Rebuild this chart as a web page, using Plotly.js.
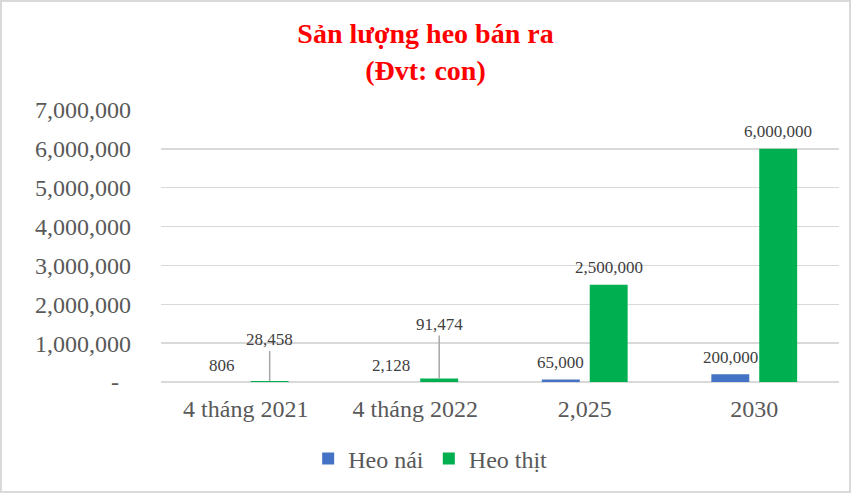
<!DOCTYPE html>
<html>
<head>
<meta charset="utf-8">
<script src="https://cdn.plot.ly/plotly-3.0.1.min.js"></script>
<style>
html,body{margin:0;padding:0;background:#fff;}
#wrap{position:relative;width:851px;height:493px;}
#chart{width:851px;height:493px;}
#frame{position:absolute;left:0;top:0;width:851px;height:493px;box-sizing:border-box;border:2px solid #d9d9d9;pointer-events:none;}
</style>
</head>
<body>
<div id="wrap"><div id="chart"></div><div id="frame"></div></div>
<script>
const categories = ['4 tháng 2021', '4 tháng 2022', '2,025', '2030'];
const heoNai = [806, 2128, 65000, 200000];
const heoThit = [28458, 91474, 2500000, 6000000];
const seriesNames = ['Heo nái', 'Heo thịt'];
const yTickVals = [0, 1000000, 2000000, 3000000, 4000000, 5000000, 6000000, 7000000];
const yTickText = ['-\u00a0\u00a0', '1,000,000', '2,000,000', '3,000,000', '4,000,000', '5,000,000', '6,000,000', '7,000,000'];
// labels lifted with leader lines (series 1 index -> pixel lift)
const leaderLift = {0: 41, 1: 54};

const FONT = 'Liberation Serif, Times New Roman, serif';
const bargap = 0.435;
const slotOff = (1 - bargap) / 4;
const fmt = v => v.toLocaleString('en-US');

const traces = [
  {type: 'bar', name: seriesNames[0], x: categories, y: heoNai, marker: {color: '#4472C4'}, hoverinfo: 'none'},
  {type: 'bar', name: seriesNames[1], x: categories, y: heoThit, marker: {color: '#00B050'}, hoverinfo: 'none'}
];

const annotations = [];
heoNai.forEach((v, i) => {
  annotations.push({x: i - slotOff, y: v, xref: 'x', yref: 'y', text: fmt(v), showarrow: false,
    yanchor: 'bottom', yshift: 5, font: {family: FONT, size: 17, color: '#404040'}});
});
heoThit.forEach((v, i) => {
  if (leaderLift[i] !== undefined) {
    annotations.push({x: i + slotOff, y: v, xref: 'x', yref: 'y', text: fmt(v), showarrow: true,
      arrowhead: 0, arrowwidth: 1.5, arrowcolor: '#a6a6a6', ax: 0, ay: -leaderLift[i], standoff: 0,
      font: {family: FONT, size: 17, color: '#404040'}});
  } else {
    annotations.push({x: i + slotOff, y: v, xref: 'x', yref: 'y', text: fmt(v), showarrow: false,
      yanchor: 'bottom', yshift: 6, font: {family: FONT, size: 17, color: '#404040'}});
  }
});

const layout = {
  width: 851, height: 493,
  margin: {l: 161, r: 12, t: 110, b: 111, autoexpand: false},
  paper_bgcolor: '#ffffff', plot_bgcolor: '#ffffff',
  font: {family: FONT, color: '#595959'},
  title: {text: '<b>Sản lượng heo bán ra<br>(Đvt: con)</b>', font: {family: FONT, size: 28, color: '#FF0000'},
    x: 0.5, xanchor: 'center', xref: 'container', y: 0.912, yanchor: 'top', yref: 'container', automargin: false},
  barmode: 'group', bargap: bargap, bargroupgap: 0.208,
  xaxis: {type: 'category', tickfont: {family: FONT, size: 24, color: '#595959'}, showgrid: false,
    showline: false, zeroline: false, ticks: '', ticklabelstandoff: 10, tickangle: 0, automargin: false, fixedrange: true},
  yaxis: {range: [0, 7000000], tickvals: yTickVals, ticktext: yTickText,
    tickfont: {family: FONT, size: 24, color: '#595959'}, showgrid: true, gridcolor: '#d9d9d9', gridwidth: 1.5,
    zeroline: true, zerolinecolor: '#d9d9d9', zerolinewidth: 1.5, showline: false, ticks: '',
    ticklabelstandoff: 29, automargin: false, fixedrange: true},
  legend: {orientation: 'h', x: 0.397, xanchor: 'center', xref: 'paper', y: -0.283, yanchor: 'middle',
    font: {family: FONT, size: 24, color: '#595959'}, itemclick: false, itemdoubleclick: false},
  annotations: annotations,
  showlegend: true
};

Plotly.newPlot('chart', traces, layout, {displayModeBar: false, staticPlot: true});
</script>
</body>
</html>
